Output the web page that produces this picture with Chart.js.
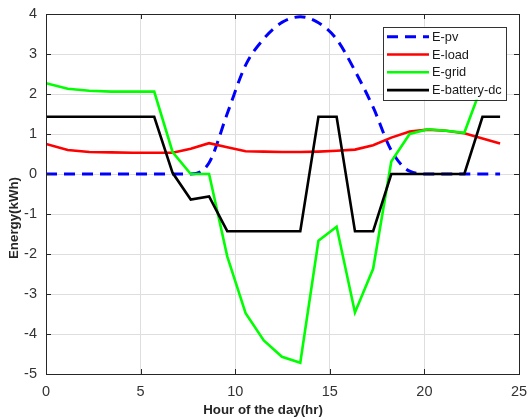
<!DOCTYPE html>
<html>
<head>
<meta charset="utf-8">
<script src="https://cdn.jsdelivr.net/npm/chart.js@4.4.1/dist/chart.umd.min.js"></script>
<style>
  html, body { margin: 0; padding: 0; background: #fff; }
  #wrap { width: 528px; height: 419px; position: relative; }
</style>
</head>
<body>
<div id="wrap"><canvas id="c" width="528" height="419"></canvas></div>
<script>
// ---- data ----
const hours = [0, 1.15, 2.29, 3.44, 4.58, 5.72, 6.69, 7.65, 8.62, 9.58, 10.55, 11.51, 12.47,
               13.44, 14.40, 15.36, 16.33, 17.29, 18.25, 19.22, 20.18, 21.14, 22.11, 23.07, 24.0];
const ePv = [0, 0, 0, 0, 0, 0, 0, 0, 0.28, 1.51, 2.72, 3.38, 3.79,
             3.93, 3.78, 3.37, 2.58, 1.67, 0.59, 0.07, 0, 0, 0, 0, 0];
const eLoad = [0.75, 0.60, 0.55, 0.54, 0.53, 0.53, 0.53, 0.63, 0.77, 0.67, 0.57, 0.56, 0.55,
               0.55, 0.56, 0.58, 0.61, 0.72, 0.91, 1.06, 1.11, 1.08, 1.02, 0.89, 0.76];
const eGrid = [2.27, 2.13, 2.08, 2.06, 2.06, 2.06, 0.55, 0, 0, -2.06, -3.48, -4.16, -4.57,
               -4.72, -1.67, -1.32, -3.46, -2.37, 0.31, 1.00, 1.12, 1.08, 1.03, 2.25, 2.25];
const eBattery = [1.43, 1.43, 1.43, 1.43, 1.43, 1.43, 0.03, -0.64, -0.56, -1.43, -1.43, -1.43, -1.43,
                  -1.43, 1.43, 1.43, -1.43, -1.43, 0, 0, 0, 0, 0, 1.43, 1.43];
const seriesNames = ['E-pv', 'E-load', 'E-grid', 'E-battery-dc'];
const xTickValues = [0, 5, 10, 15, 20, 25];
const yTickValues = [-5, -4, -3, -2, -1, 0, 1, 2, 3, 4];
const xTitle = 'Hour of the day(hr)';
const yTitle = 'Energy(kWh)';

// ---- styling ----
const FONT = '"Liberation Sans", Arial, sans-serif';
const AXIS_COLOR = '#262626';
const colors = ['#0000ff', '#ff0000', '#00ff00', '#000000'];
const dashes = [[11, 7], [], [], []];

const toPts = (ys) => ys.map((y, i) => ({ x: hours[i], y }));
const seriesValues = [ePv, eLoad, eGrid, eBattery];

const datasets = seriesValues.map((vals, i) => ({
  label: seriesNames[i],
  data: toPts(vals),
  borderColor: colors[i],
  backgroundColor: colors[i],
  borderWidth: i === 0 ? 3 : 2.6,
  borderDash: dashes[i],
  pointRadius: 0,
  fill: false,
  tension: 0,
  cubicInterpolationMode: i === 0 ? 'monotone' : 'default',
  order: 4 - i
}));

const framePlugin = {
  id: 'matlabFrame',
  afterDatasetsDraw(chart) {
    const ctx = chart.ctx, a = chart.chartArea;
    const xs = chart.scales.x, ys = chart.scales.y;
    ctx.save();
    ctx.strokeStyle = AXIS_COLOR;
    ctx.lineWidth = 1;
    ctx.strokeRect(Math.round(a.left) + 0.5, Math.round(a.top) + 0.5,
                   Math.round(a.right - a.left), Math.round(a.bottom - a.top));
    const tl = 5;
    ctx.beginPath();
    xTickValues.forEach(v => {
      const px = Math.round(xs.getPixelForValue(v)) + 0.5;
      ctx.moveTo(px, a.bottom); ctx.lineTo(px, a.bottom - tl);
      ctx.moveTo(px, a.top); ctx.lineTo(px, a.top + tl);
    });
    yTickValues.forEach(v => {
      const py = Math.round(ys.getPixelForValue(v)) + 0.5;
      ctx.moveTo(a.left, py); ctx.lineTo(a.left + tl, py);
      ctx.moveTo(a.right, py); ctx.lineTo(a.right - tl, py);
    });
    ctx.stroke();

    // legend box (opaque, top-right inside axes)
    const bw = 123, bh = 73;
    const bx = a.right - 13 - bw, by = a.top + 12.7;
    ctx.fillStyle = '#ffffff';
    ctx.fillRect(bx, by, bw, bh);
    ctx.strokeStyle = '#333333';
    ctx.lineWidth = 1;
    ctx.strokeRect(Math.round(bx) + 0.5, Math.round(by) + 0.5, bw, bh);
    ctx.font = '12.8px ' + FONT;
    ctx.textBaseline = 'middle';
    ctx.textAlign = 'left';
    seriesNames.forEach((name, i) => {
      const ry = by + 10 + i * 17.8;
      ctx.beginPath();
      ctx.strokeStyle = colors[i];
      ctx.lineWidth = i === 0 ? 3 : 2.6;
      ctx.setLineDash(dashes[i]);
      ctx.moveTo(bx + 4, ry); ctx.lineTo(bx + 46, ry);
      ctx.stroke();
      ctx.setLineDash([]);
      ctx.fillStyle = '#1a1a1a';
      ctx.fillText(name, bx + 49, ry + 0.5);
    });
    ctx.restore();
  },
  afterDraw(chart) {
    const ctx = chart.ctx, a = chart.chartArea;
    ctx.save();
    ctx.fillStyle = AXIS_COLOR;
    ctx.font = 'bold 13.3px ' + FONT;
    ctx.textAlign = 'center';
    ctx.textBaseline = 'middle';
    ctx.fillText(xTitle, a.left + 217, 410.5);
    ctx.translate(14, a.top + 204);
    ctx.rotate(-Math.PI / 2);
    ctx.fillText(yTitle, 0, 0);
    ctx.restore();
  }
};

new Chart(document.getElementById('c'), {
  type: 'line',
  data: { datasets },
  options: {
    responsive: false,
    animation: false,
    devicePixelRatio: 1,
    layout: { padding: { left: 0, right: 9, top: 14, bottom: 0 } },
    plugins: { legend: { display: false }, tooltip: { enabled: false }, title: { display: false } },
    scales: {
      x: {
        type: 'linear',
        min: xTickValues[0],
        max: xTickValues[xTickValues.length - 1],
        afterBuildTicks: (s) => { s.ticks = xTickValues.map(v => ({ value: v })); },
        afterFit: (s) => { s.height = 45; s.paddingLeft = 0; s.paddingRight = 0; s.paddingTop = 0; s.paddingBottom = 0; },
        ticks: { color: '#333333', font: { family: FONT, size: 14.5 }, padding: 9, maxRotation: 0,
                 callback: (v) => String(v) },
        grid: { color: '#dedede', lineWidth: 1, drawTicks: false },
        border: { display: false }
      },
      y: {
        type: 'linear',
        min: yTickValues[0],
        max: yTickValues[yTickValues.length - 1],
        afterBuildTicks: (s) => { s.ticks = yTickValues.map(v => ({ value: v })); },
        afterFit: (s) => { s.width = 46; s.paddingLeft = 0; s.paddingRight = 0; s.paddingTop = 0; s.paddingBottom = 0; },
        ticks: { color: '#333333', font: { family: FONT, size: 14.5 }, padding: 9,
                 callback: (v) => String(v) },
        grid: { color: '#dedede', lineWidth: 1, drawTicks: false },
        border: { display: false }
      }
    }
  },
  plugins: [framePlugin]
});
</script>
</body>
</html>
